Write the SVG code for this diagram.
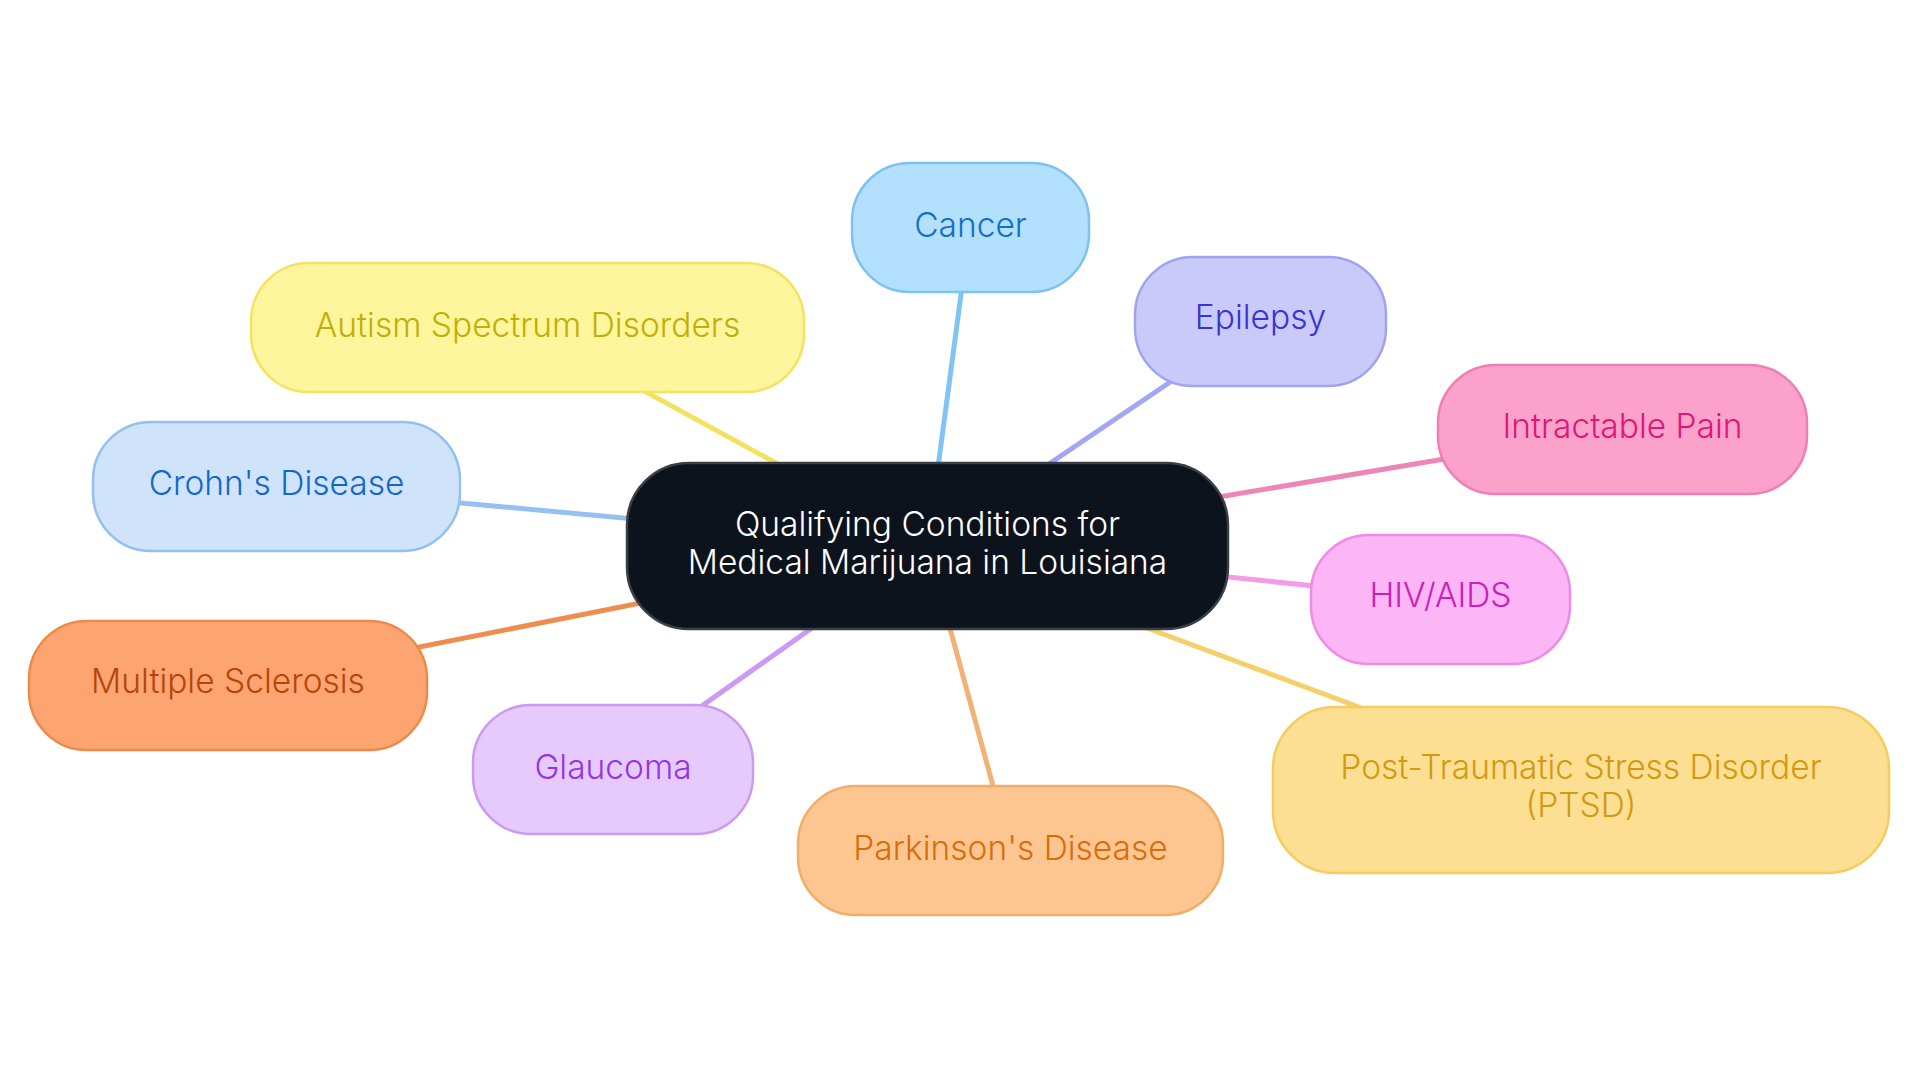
<svg xmlns="http://www.w3.org/2000/svg" width="1920" height="1083" viewBox="0 0 1920 1083">
<style>
text{font-family:Inter,"Noto Sans","Liberation Sans",sans-serif;font-size:33.5px;font-weight:300;text-anchor:middle}
.e{stroke-width:5;fill:none;stroke-linecap:round}
.n{stroke-width:2.5}
</style>
<rect width="1920" height="1083" fill="#ffffff"/>
<g id="connectors">
<line class="e" x1="927.5" y1="546" x2="970" y2="227" stroke="#80c4f4"/>
<line class="e" x1="927.5" y1="546" x2="527.5" y2="327" stroke="#f5e160"/>
<line class="e" x1="927.5" y1="546" x2="1260.5" y2="321" stroke="#a3a6f2"/>
<line class="e" x1="927.5" y1="546" x2="1622.5" y2="429" stroke="#ed85b6"/>
<line class="e" x1="927.5" y1="546" x2="276.5" y2="486" stroke="#93c1f1"/>
<line class="e" x1="927.5" y1="546" x2="1440.5" y2="599" stroke="#f49be8"/>
<line class="e" x1="927.5" y1="546" x2="228" y2="685" stroke="#ee8d50"/>
<line class="e" x1="927.5" y1="546" x2="613" y2="769" stroke="#cc9af2"/>
<line class="e" x1="927.5" y1="546" x2="1010.5" y2="850" stroke="#f1b274"/>
<line class="e" x1="927.5" y1="546" x2="1581" y2="790" stroke="#f5cf6a"/>
</g>
<g id="center">
<rect x="627" y="463" width="601" height="166" rx="62" fill="#0d131c" stroke="#3a3f47" stroke-width="2.5"/>
<text x="927.5" y="536" fill="#ffffff">Qualifying Conditions for</text>
<text x="927.5" y="574" fill="#ffffff">Medical Marijuana in Louisiana</text>
</g>
<g id="cancer">
<rect class="n" x="852" y="163" width="237" height="129" rx="58" fill="#b3e0fd" stroke="#7cc2f2"/>
<text x="970.5" y="237" fill="#1370c8">Cancer</text>
</g>
<g id="autism">
<rect class="n" x="251" y="263" width="553" height="129" rx="58" fill="#fef59c" stroke="#f5e261"/>
<text x="527.5" y="337" fill="#c2ae06">Autism Spectrum Disorders</text>
</g>
<g id="epilepsy">
<rect class="n" x="1135" y="257" width="251" height="129" rx="58" fill="#c9caf9" stroke="#a0a4f0"/>
<text x="1260.5" y="329" fill="#3a33d0">Epilepsy</text>
</g>
<g id="pain">
<rect class="n" x="1438" y="365" width="369" height="129" rx="58" fill="#fca2ca" stroke="#ec7fb3"/>
<text x="1622.5" y="438" fill="#e0157a">Intractable Pain</text>
</g>
<g id="crohns">
<rect class="n" x="93" y="422" width="367" height="129" rx="58" fill="#cfe4fb" stroke="#93c0f0"/>
<text x="276.5" y="495" fill="#1466cf">Crohn's Disease</text>
</g>
<g id="hiv">
<rect class="n" x="1311" y="535" width="259" height="129" rx="58" fill="#fcb5f5" stroke="#f08be4"/>
<text x="1440.5" y="607" fill="#c921b8">HIV/AIDS</text>
</g>
<g id="ms">
<rect class="n" x="29" y="621" width="398" height="129" rx="58" fill="#fda570" stroke="#ec8a4c"/>
<text x="228" y="693" fill="#b84409">Multiple Sclerosis</text>
</g>
<g id="glaucoma">
<rect class="n" x="473" y="705" width="280" height="129" rx="58" fill="#e7cafd" stroke="#cc9af2"/>
<text x="613" y="779" fill="#9334e6">Glaucoma</text>
</g>
<g id="parkinsons">
<rect class="n" x="798" y="786" width="425" height="129" rx="58" fill="#fdc690" stroke="#f0ae6a"/>
<text x="1010.5" y="860" fill="#d96d0c">Parkinson's Disease</text>
</g>
<g id="ptsd">
<rect class="n" x="1273" y="707" width="616" height="166" rx="62" fill="#fddf93" stroke="#f5cc5e"/>
<text x="1581" y="779" fill="#d19a10">Post-Traumatic Stress Disorder</text>
<text x="1581" y="817" fill="#d19a10">(PTSD)</text>
</g>
</svg>
